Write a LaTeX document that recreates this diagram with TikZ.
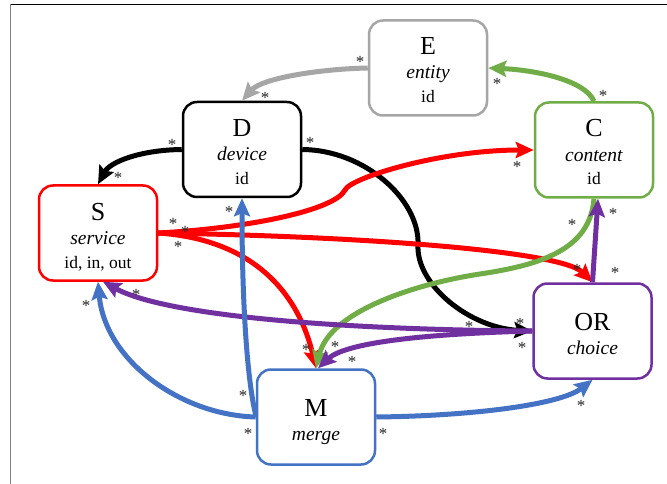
\documentclass[tikz,border=0pt]{standalone}
\usepackage{fontspec}
\setmainfont{Liberation Serif}
\usetikzlibrary{arrows.meta,calc}
\definecolor{cRed}{HTML}{FF0000}
\definecolor{cGreen}{HTML}{70AD47}
\definecolor{cBlue}{HTML}{4472C4}
\definecolor{cPurple}{HTML}{7030A0}
\definecolor{cGray}{HTML}{A6A6A6}
\definecolor{cStar}{HTML}{262626}
\definecolor{cFrame}{HTML}{808080}
\newcommand{\ttlA}[1]{{\fontsize{26}{24}\selectfont\rule{0pt}{27pt}#1}}
\newcommand{\ttlC}[1]{{\fontsize{17.5}{24}\selectfont #1\rule[-5pt]{0pt}{5pt}}}
\newcommand{\ttlI}[1]{{\itshape #1\rule[-5pt]{0pt}{5pt}}}
\begin{document}
\begin{tikzpicture}[x=1pt,y=-1pt,
  entbox/.style={draw=#1, line width=2.5pt, rounded corners=14pt, fill=white,
    minimum width=118pt, minimum height=95pt, inner sep=0pt, align=center,
    font=\fontsize{19.5}{24}\selectfont},
  conn/.style={draw=#1, line width=5pt,
    -{Stealth[length=18pt,width=16pt,inset=3pt]}},
  star/.style={font=\fontsize{17}{17}\selectfont, text=cStar, inner sep=0pt, yshift=-2pt},
]
\useasboundingbox (0,0) rectangle (667,484);
\fill[white] (0,0) rectangle (667,484);
% frame
\draw[black, line width=1pt] (10,4.5) -- (667,4.5);
\draw[cFrame, line width=1.5pt] (10.5,4) -- (10.5,484);

% boxes
\node[entbox=cGray]   (E)  at (428,68)    {\ttlA{E}\\\textit{entity}\\\ttlC{id}};
\node[entbox=black]   (D)  at (242,149.5) {\ttlA{D}\\\textit{device}\\\ttlC{id}};
\node[entbox=cGreen]  (C)  at (594,150)   {\ttlA{C}\\\textit{content}\\\ttlC{id}};
\node[entbox=cRed]    (S)  at (98,233)    {\ttlA{S}\\\textit{service}\\\ttlC{id, in, out}};
\node[entbox=cPurple] (OR) at (592.5,331) {\ttlA{OR}\\\ttlI{choice}};
\node[entbox=cBlue]   (M)  at (316,417)   {\ttlA{M}\\\ttlI{merge}};

% connectors
\draw[conn=cGray] (E.west) .. controls (320,69) and (262,78) .. (D.north);
\draw[conn=black] (D.west) .. controls (140,150) and (110,162) .. (S.north);
\draw[conn=black] (D.east) .. controls (365,150) and (420,200) .. (418,245)
   .. controls (416,285) and (470,328) .. (OR.west);
\draw[conn=cRed] (S.east) .. controls (250,228) and (335,210) .. (345,190)
   .. controls (350,178) and (440,150) .. (C.west);
\draw[conn=cRed] (S.east) .. controls (350,236) and (560,250) .. (OR.north);
\draw[conn=cRed] (S.east) .. controls (260,240) and (300,300) .. (M.north);
\draw[conn=cGreen] (C.north) .. controls (585,80) and (535,70) .. (E.east);
\draw[conn=cGreen] (C.south) .. controls (590,250) and (540,265) .. (480,274)
   .. controls (420,283) and (330,310) .. (M.north);
\draw[conn=cPurple] (OR.north) -- ($(C.south)+(4,0)$);
\draw[conn=cPurple] (OR.west) .. controls (360,330) and (170,318) .. ($(S.south)+(5,0)$);
\draw[conn=cPurple] (OR.west) .. controls (420,334) and (345,343) .. ($(M.north)+(2,0)$);
\draw[conn=cBlue] ($(M.west)+(0,-2)$) .. controls (247,380) and (242,300) .. (D.south);
\draw[conn=cBlue] (M.west) .. controls (180,415) and (105,360) .. (S.south);
\draw[conn=cBlue] (M.east) .. controls (470,416) and (560,405) .. (OR.south);

% multiplicity stars
\node[star] (s1)  at (360,60)  {*};
\node[star] (s2)  at (265,96)  {*};
\node[star] (s3)  at (603,94)  {*};
\node[star] (s4)  at (497,82)  {*};
\node[star] (s5)  at (172,143) {*};
\node[star] (s6)  at (118,176) {*};
\node[star] (s7)  at (310,141) {*};
\node[star] (s8)  at (520,322) {*};
\node[star] (s9)  at (173,222) {*};
\node[star] (s10) at (517,165) {*};
\node[star] (s11) at (185,230) {*};
\node[star] (s12) at (577,268) {*};
\node[star] (s13) at (178,245) {*};
\node[star] (s14) at (306,348) {*};
\node[star] (s15) at (572,223) {*};
\node[star] (s16) at (335,345) {*};
\node[star] (s17) at (615,271) {*};
\node[star] (s18) at (613,212) {*};
\node[star] (s19) at (469,325) {*};
\node[star] (s20) at (136,293) {*};
\node[star] (s21) at (522,346) {*};
\node[star] (s22) at (352,360) {*};
\node[star] (s23) at (243,394) {*};
\node[star] (s24) at (229,210) {*};
\node[star] (s25) at (248,432) {*};
\node[star] (s26) at (86,304)  {*};
\node[star] (s27) at (383,432) {*};
\node[star] (s28) at (581,404) {*};
\end{tikzpicture}
\end{document}
